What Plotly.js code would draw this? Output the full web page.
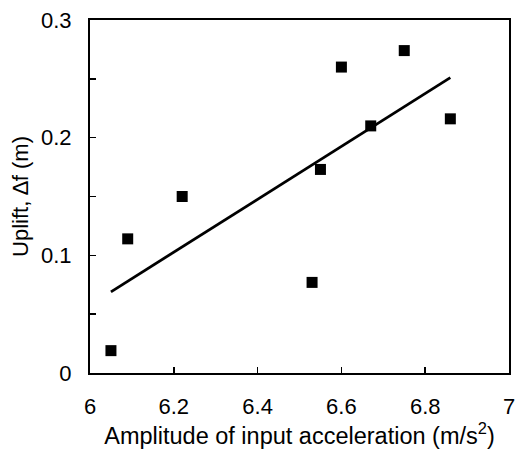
<!DOCTYPE html>
<html>
<head>
<meta charset="utf-8">
<script src="https://cdn.plot.ly/plotly-3.0.1.min.js"></script>
<style>html,body{margin:0;padding:0;background:#fff;}#chart{width:517px;height:452px;}</style>
</head>
<body>
<div id="chart"></div>
<script>
// Measured data
const accel = [6.05, 6.09, 6.22, 6.53, 6.55, 6.60, 6.67, 6.75, 6.86];
const uplift = [0.019, 0.114, 0.150, 0.077, 0.173, 0.260, 0.210, 0.274, 0.216];
// Trend line endpoints
const fitX = [6.05, 6.86];
const fitY = [0.069, 0.251];
// Tick labels
const xTickVals = [6, 6.2, 6.4, 6.6, 6.8, 7];
const xTickText = ['6', '6.2', '6.4', '6.6', '6.8', '7'];
const yTickVals = [0, 0.05, 0.1, 0.15, 0.2, 0.25, 0.3];
const yTickText = ['0', '', '0.1', '', '0.2', '', '0.3'];

const tickFont = {family: 'Liberation Sans, Arial, sans-serif', size: 22, color: '#000'};
const xTitleFont = {family: 'Liberation Sans, Arial, sans-serif', size: 23.5, color: '#000'};
const yTitleFont = {family: 'Liberation Sans, Arial, sans-serif', size: 22, color: '#000'};

const traces = [
  {x: fitX, y: fitY, mode: 'lines', line: {color: '#000', width: 2.8}, showlegend: false, hoverinfo: 'skip'},
  {x: accel, y: uplift, mode: 'markers', marker: {symbol: 'square', size: 11, color: '#000'}, showlegend: false}
];

const layout = {
  width: 517, height: 452,
  margin: {l: 90, r: 8, t: 20, b: 79},
  paper_bgcolor: '#fff', plot_bgcolor: '#fff',
  font: tickFont,
  xaxis: {
    range: [6, 7], tickvals: xTickVals, ticktext: xTickText,
    ticks: 'inside', ticklen: 6, tickwidth: 1.5, tickcolor: '#000',
    showline: true, linecolor: '#000', linewidth: 2, mirror: true,
    showgrid: false, zeroline: false, tickfont: tickFont, ticklabelstandoff: 13,
    automargin: false,
    title: {text: 'Amplitude of input acceleration (m/s<sup>2</sup>)', font: xTitleFont, standoff: 7}
  },
  yaxis: {
    range: [0, 0.3], tickvals: yTickVals, ticktext: yTickText,
    ticks: 'inside', ticklen: 6, tickwidth: 1.5, tickcolor: '#000',
    showline: true, linecolor: '#000', linewidth: 2, mirror: true,
    showgrid: false, zeroline: false, tickfont: tickFont, ticklabelstandoff: 12,
    automargin: false,
    title: {text: 'Uplift, \u2206f (m)', font: yTitleFont, standoff: 6}
  }
};

Plotly.newPlot('chart', traces, layout, {displayModeBar: false, staticPlot: true});
</script>
</body>
</html>
